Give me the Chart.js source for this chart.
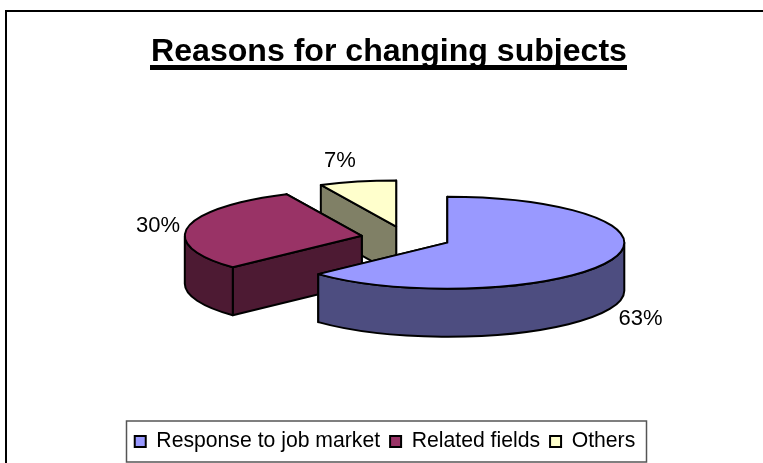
<!DOCTYPE html>
<html>
<head>
<meta charset="utf-8">
<title>Reasons for changing subjects</title>
<script src="https://cdn.jsdelivr.net/npm/chart.js@4/dist/chart.umd.min.js"></script>
<style>
    html, body { margin: 0; padding: 0; background: #fff; }
    canvas { display: block; }
</style>
</head>
<body>
<canvas id="pie-chart" width="763" height="463"></canvas>
<script>
// Chart data
const chartTitle = 'Reasons for changing subjects';
const categories = ['Response to job market', 'Related fields', 'Others'];
const percentages = [63, 30, 7];

// Colours
const topColors = ['#9999FF', '#993366', '#FFFFCC'];
const sideColors = ['#4D4D80', '#4D1A33', '#808066'];

// Look of the fake 3D pie
const pieCenter = { x: 406, y: 238 };
const pieRadius = 177;
const tilt = 0.26;      // vertical squash of the circle
const explode = 45;     // how far each slice is pulled out
const depth = 48;       // height of the walls
const labelSpots = [[640.5, 319], [158, 226], [340, 161]];
const fontName = '"Liberation Sans", Arial, sans-serif';

// Centre of a slice on the page, after pulling it out
function sliceCenter(arc) {
    const mid = (arc.startAngle + arc.endAngle) / 2;
    return {
        x: pieCenter.x + Math.cos(mid) * explode,
        y: pieCenter.y + Math.sin(mid) * explode * tilt
    };
}

function edgePoint(c, r, angle) {
    return { x: c.x + Math.cos(angle) * r, y: c.y + Math.sin(angle) * r * tilt };
}

function strokeAndFill(ctx, color) {
    ctx.fillStyle = color;
    ctx.fill();
    ctx.stroke();
}

// Radial walls, far one first
function drawWalls(ctx, arc, c, color) {
    const angles = [arc.startAngle, arc.endAngle]
        .sort((a, b) => edgePoint(c, arc.outerRadius, a).y - edgePoint(c, arc.outerRadius, b).y);
    angles.forEach(angle => {
        const p = edgePoint(c, arc.outerRadius, angle);
        ctx.beginPath();
        ctx.moveTo(c.x, c.y);
        ctx.lineTo(p.x, p.y);
        ctx.lineTo(p.x, p.y + depth);
        ctx.lineTo(c.x, c.y + depth);
        ctx.closePath();
        strokeAndFill(ctx, color);
    });
}

// Outer rim, only the part facing the viewer
function drawRim(ctx, arc, c, color) {
    const from = Math.max(arc.startAngle, 0);
    const to = Math.min(arc.endAngle, Math.PI);
    if (from >= to) return;
    const r = arc.outerRadius;
    ctx.beginPath();
    ctx.ellipse(c.x, c.y, r, r * tilt, 0, from, to);
    ctx.ellipse(c.x, c.y + depth, r, r * tilt, 0, to, from, true);
    ctx.closePath();
    strokeAndFill(ctx, color);
}

// Top face is drawn by the arc element itself, squashed
function drawTop(ctx, arc, c) {
    ctx.save();
    ctx.translate(c.x, c.y);
    ctx.scale(1, tilt);
    ctx.translate(-arc.x, -arc.y);
    arc.draw(ctx);
    ctx.restore();

    ctx.beginPath();
    ctx.moveTo(c.x, c.y);
    ctx.ellipse(c.x, c.y, arc.outerRadius, arc.outerRadius * tilt, 0, arc.startAngle, arc.endAngle);
    ctx.closePath();
    ctx.stroke();
}

const pie3d = {
    id: 'pie3d',
    afterLayout(chart) {
        // Legend sits a little left of the title's centre
        chart.legend.left -= 4;
        chart.legend.right -= 4;
    },
    beforeDraw(chart) {
        const ctx = chart.ctx;
        // Frame of the original slide, open on the right and at the bottom
        ctx.save();
        ctx.strokeStyle = '#000';
        ctx.lineWidth = 2;
        ctx.beginPath();
        ctx.moveTo(6, 463);
        ctx.lineTo(6, 11);
        ctx.lineTo(763, 11);
        ctx.stroke();
        ctx.restore();
    },
    beforeDatasetsDraw(chart) {
        const ctx = chart.ctx;
        const arcs = chart.getDatasetMeta(0).data;
        ctx.save();
        ctx.strokeStyle = '#000';
        ctx.lineWidth = 2;
        ctx.lineJoin = 'round';
        // Back to front: Others, Related fields, Response to job market
        [2, 1, 0].forEach(i => {
            const c = sliceCenter(arcs[i]);
            drawWalls(ctx, arcs[i], c, sideColors[i]);
            drawRim(ctx, arcs[i], c, sideColors[i]);
            drawTop(ctx, arcs[i], c);
        });
        ctx.restore();

        // Percent labels
        ctx.save();
        ctx.fillStyle = '#000';
        ctx.font = '22px ' + fontName;
        ctx.textAlign = 'center';
        ctx.textBaseline = 'middle';
        percentages.forEach((p, i) => {
            ctx.fillText(p + '%', labelSpots[i][0], labelSpots[i][1]);
        });
        ctx.restore();
        return false;
    },
    afterDraw(chart) {
        const ctx = chart.ctx;
        // Underline under the title
        ctx.save();
        ctx.fillStyle = '#000';
        ctx.fillRect(150, 65, 477, 5);

        // Box round the legend
        ctx.strokeStyle = '#555';
        ctx.lineWidth = 1.5;
        ctx.strokeRect(126.5, 421, 520, 41);
        ctx.restore();
    }
};

const defaultLabels = Chart.overrides.pie.plugins.legend.labels.generateLabels;

new Chart(document.getElementById('pie-chart'), {
    type: 'pie',
    data: {
        labels: categories,
        datasets: [{
            data: percentages,
            backgroundColor: topColors,
            borderWidth: 0,
            radius: pieRadius
        }]
    },
    options: {
        responsive: false,
        animation: false,
        layout: { padding: { left: 15, bottom: 1 } },
        plugins: {
            tooltip: { enabled: false },
            title: {
                display: true,
                text: chartTitle,
                color: '#000',
                font: { family: fontName, size: 32.1, weight: 'bold' },
                padding: { top: 33, bottom: 0 }
            },
            legend: {
                position: 'bottom',
                labels: {
                    color: '#000',
                    font: { family: fontName, size: 21.2 },
                    boxWidth: 11,
                    boxHeight: 11,
                    padding: 10,
                    generateLabels(chart) {
                        return defaultLabels(chart).map(item => {
                            item.strokeStyle = '#000';
                            item.lineWidth = 2;
                            return item;
                        });
                    }
                }
            }
        }
    },
    plugins: [pie3d]
});
</script>
</body>
</html>
